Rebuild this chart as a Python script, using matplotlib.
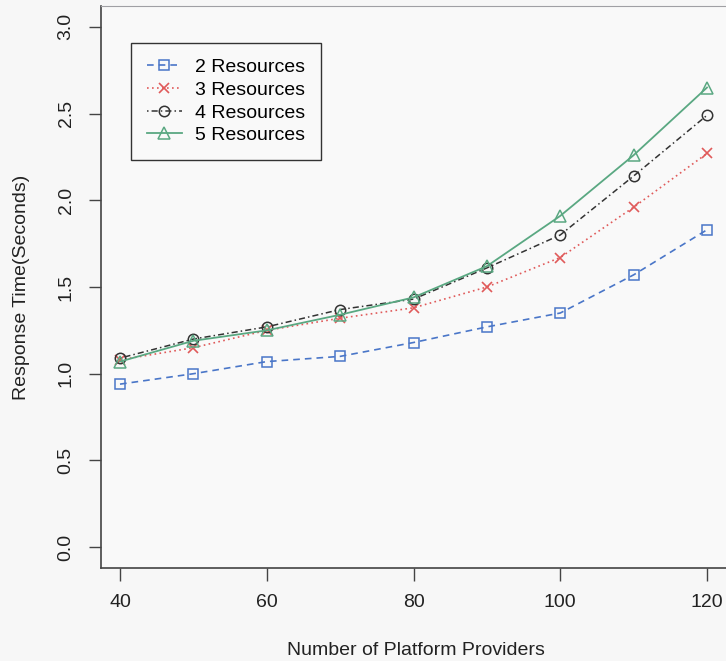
import matplotlib
matplotlib.use('Agg')
import matplotlib.pyplot as plt

plt.rcParams['font.family'] = ['Liberation Sans', 'DejaVu Sans']

providers = [40, 50, 60, 70, 80, 90, 100, 110, 120]
res2 = [0.94, 1.00, 1.07, 1.10, 1.18, 1.27, 1.35, 1.57, 1.83]
res3 = [1.08, 1.15, 1.25, 1.32, 1.38, 1.50, 1.67, 1.96, 2.27]
res4 = [1.09, 1.20, 1.27, 1.37, 1.43, 1.61, 1.80, 2.14, 2.49]
res5 = [1.07, 1.19, 1.25, 1.34, 1.44, 1.62, 1.91, 2.26, 2.65]
labels = ['2 Resources', '3 Resources', '4 Resources', '5 Resources']

W, H = 726, 661
fig = plt.figure(figsize=(W / 100, H / 100), dpi=100, facecolor='#f7f7f7')
# axes box in pixels: left 101, right ~730 (just off canvas), top 6, bottom 568
ax = fig.add_axes([101 / W, (H - 568) / H, (730.5 - 101) / W, (568 - 6) / H])
ax.set_facecolor('#f9f9f9')

# series styles: R-like lty/pch
ax.plot(providers, res2, color='#4a76c8', linestyle=(0, (4, 3)), linewidth=1.2,
        marker='s', markersize=7, markerfacecolor='none', markeredgewidth=1.1, label=labels[0])
ax.plot(providers, res3, color='#e05a5a', linestyle=(0, (1, 2)), linewidth=1.2,
        marker='x', markersize=7, markeredgewidth=1.2, label=labels[1])
ax.plot(providers, res4, color='#333333', linestyle=(0, (1, 2, 4, 2)), linewidth=1.1,
        marker='o', markersize=7.5, markerfacecolor='none', markeredgewidth=1.1, label=labels[2])
ax.plot(providers, res5, color='#5aa882', linestyle='-', linewidth=1.3,
        marker='^', markersize=9, markerfacecolor='none', markeredgewidth=1.1, label=labels[3])

ax.set_xlim(37.41, 123.2)
ax.set_ylim(-0.12, 3.12)
ax.set_xticks([40, 60, 80, 100, 120])
ax.set_yticks([0.0, 0.5, 1.0, 1.5, 2.0, 2.5, 3.0])
ax.set_yticklabels(['0.0', '0.5', '1.0', '1.5', '2.0', '2.5', '3.0'], rotation=90, va='center')

ax.tick_params(direction='out', length=9, width=1, colors='#444444', labelcolor='#222222',
               labelsize=14, pad=10)
for side in ['left', 'bottom']:
    ax.spines[side].set_color('#444444')
    ax.spines[side].set_linewidth(1.2)
ax.spines['top'].set_color('#a0a0a4')
ax.spines['right'].set_color('#a0a0a4')

ax.set_xlabel('Number of Platform Providers', fontsize=14, color='#222222', labelpad=22)
ax.set_ylabel('Response Time(Seconds)', fontsize=14, color='#222222', labelpad=20)

leg = ax.legend(loc='upper left', bbox_to_anchor=(30 / 629.5, 1 - 37 / 562), fontsize=14,
                frameon=True, fancybox=False, handlelength=1.8, handletextpad=0.7,
                labelspacing=0.26, borderpad=0.8, borderaxespad=0)
leg.get_frame().set_edgecolor('#333333')
leg.get_frame().set_linewidth(1.0)
leg.get_frame().set_facecolor('#f9f9f9')
leg.get_frame().set_alpha(1)

plt.savefig('out.png', dpi=100, facecolor=fig.get_facecolor())
plt.close()
